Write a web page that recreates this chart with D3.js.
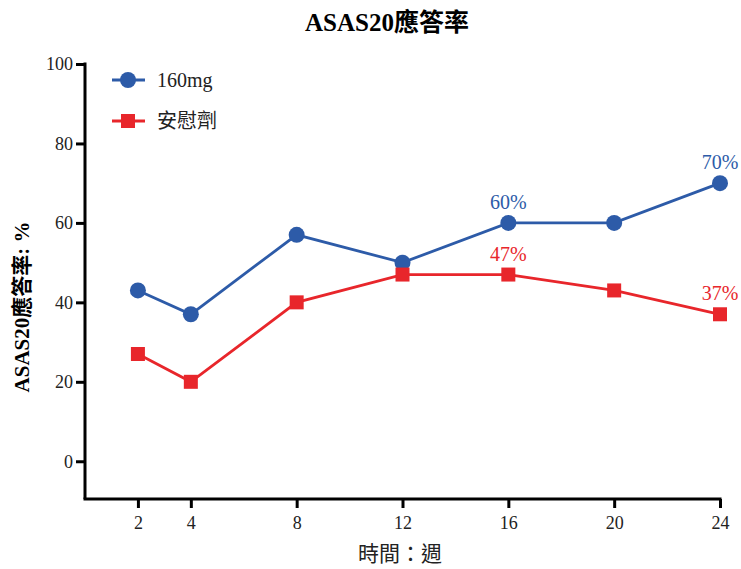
<!DOCTYPE html>
<html lang="zh-Hant">
  <head>
    <meta charset="utf-8">
    <style type="text/css">
      body { margin: 0; background: #fff; }
      svg { font-family: "Liberation Serif", "Noto Sans CJK TC", serif; }
      .axis path, .axis line { stroke: #000; stroke-width: 3px; }
    </style>
  </head>
  <body>
    <script src="https://cdn.jsdelivr.net/npm/d3@7/dist/d3.min.js"></script>
    <svg id="chart"></svg>
    <script type="text/javascript">
var weeks = [2, 4, 8, 12, 16, 20, 24];
var dose160 = [43, 37, 57, 50, 60, 60, 70];
var placebo = [27, 20, 40, 47, 47, 43, 37];
var yTicks = [0, 20, 40, 60, 80, 100];
var seriesNames = ["160mg", "安慰劑"];
// labelled points: [series index, week index, text]
var pointLabels = [[0, 4, "60%"], [0, 6, "70%"], [1, 4, "47%"], [1, 6, "37%"]];

var width = 741, height = 569;
var colors = ["#2d5ba8", "#e8262b"];

var svg = d3.select("#chart").attr("width", width).attr("height", height);

var x = d3.scaleLinear().domain([0, 24]).range([85, 720]);
var y = d3.scaleLinear().domain([-9.5, 100]).range([499, 64]);

var xAxis = svg.append("g")
  .attr("class", "axis")
  .attr("transform", "translate(0," + y(-9.5) + ")")
  .call(d3.axisBottom(x).tickValues(weeks).tickSize(9).tickSizeOuter(0).tickPadding(8));
xAxis.select(".domain").attr("d", "M" + (x(0) - 1.5) + ",0H" + (x(24) + 1.5));

var yAxis = svg.append("g")
  .attr("class", "axis")
  .attr("transform", "translate(" + x(0) + ",0)")
  .call(d3.axisLeft(y).tickValues(yTicks).tickSize(9).tickSizeOuter(0).tickPadding(3));
yAxis.select(".domain").attr("d", "M0," + (y(100) - 1.5) + "V" + y(-9.5));

svg.selectAll(".axis").attr("font-family", "Liberation Serif").attr("font-size", 18);
svg.selectAll(".axis text").style("fill", "#222");

svg.append("text")
  .attr("x", 387).attr("y", 31)
  .attr("text-anchor", "middle")
  .style("font-size", "25px").style("font-weight", "bold")
  .text("ASAS20應答率");

svg.append("text")
  .attr("transform", "translate(29,307) rotate(-90)")
  .attr("text-anchor", "middle")
  .style("font-size", "21px").style("font-weight", "bold")
  .text("ASAS20應答率: %");

svg.append("text")
  .attr("x", 400).attr("y", 561)
  .attr("text-anchor", "middle")
  .style("font-size", "21px").style("fill", "#222")
  .text("時間：週");

var data = [dose160, placebo];
var line = d3.line()
  .x(function(d, i) { return x(weeks[i]); })
  .y(function(d) { return y(d); });

data.forEach(function(values, s) {
  var g = svg.append("g");
  g.append("path")
    .attr("d", line(values))
    .style("fill", "none")
    .style("stroke", colors[s])
    .style("stroke-width", 2.8);
  if (s === 0) {
    g.selectAll("circle").data(values).enter().append("circle")
      .attr("cx", function(d, i) { return x(weeks[i]); })
      .attr("cy", function(d) { return y(d); })
      .attr("r", 8)
      .style("fill", colors[s]);
  } else {
    g.selectAll("rect").data(values).enter().append("rect")
      .attr("x", function(d, i) { return x(weeks[i]) - 7; })
      .attr("y", function(d) { return y(d) - 7; })
      .attr("width", 14).attr("height", 14)
      .style("fill", colors[s]);
  }
});

svg.append("g").selectAll("text").data(pointLabels).enter().append("text")
  .attr("x", function(d) { return x(weeks[d[1]]); })
  .attr("y", function(d) { return y(data[d[0]][d[1]]) - 14; })
  .attr("text-anchor", "middle")
  .style("font-size", "20px")
  .style("fill", function(d) { return colors[d[0]]; })
  .text(function(d) { return d[2]; });

var legend = svg.append("g");
var items = legend.selectAll("g").data(seriesNames).enter().append("g")
  .attr("transform", function(d, i) { return "translate(128," + (80 + i * 41) + ")"; });
items.append("line")
  .attr("x1", -16).attr("x2", 17)
  .style("stroke", function(d, i) { return colors[i]; })
  .style("stroke-width", 2.8);
items.each(function(d, i) {
  var g = d3.select(this);
  if (i === 0) {
    g.append("circle").attr("r", 8).style("fill", colors[i]);
  } else {
    g.append("rect").attr("x", -7).attr("y", -7).attr("width", 14).attr("height", 14).style("fill", colors[i]);
  }
});
items.append("text")
  .attr("x", 29).attr("y", 7)
  .style("font-size", "20px").style("fill", "#222")
  .text(function(d) { return d; });
    </script>
  </body>
</html>
